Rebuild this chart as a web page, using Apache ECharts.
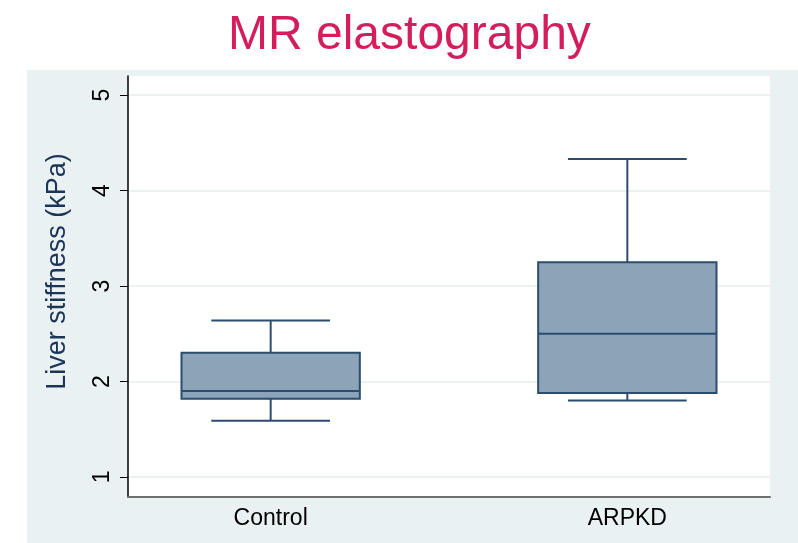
<!DOCTYPE html>
<html lang="en">

<head>
    <meta charset="UTF-8">
    <title>MR elastography</title>
    <script src="https://cdn.jsdelivr.net/npm/echarts@6/dist/echarts.min.js"></script>
    <style>
        html, body { margin: 0; padding: 0; background: #fff; }
        #chart { width: 798px; height: 543px; }
    </style>
</head>

<body>
    <div id="chart"></div>
    <script>
        // groups on the x axis (positions 1 and 2)
        const categories = ['Control', 'ARPKD'];
        // [lower whisker, Q1, median, Q3, upper whisker], kPa
        const controlBox = [1.59, 1.82, 1.90, 2.30, 2.64];
        const arpkdBox = [1.80, 1.88, 2.50, 3.25, 4.33];
        const yTicks = [1, 2, 3, 4, 5];

        const boxes = [controlBox, arpkdBox];
        const lineColor = '#2b4d70';
        const fillColor = '#8ca3b8';

        const renderBox = (params, api) => {
            const x = api.value(0);
            const lo = api.coord([x, api.value(1)]);
            const q1 = api.coord([x, api.value(2)]);
            const med = api.coord([x, api.value(3)]);
            const q3 = api.coord([x, api.value(4)]);
            const hi = api.coord([x, api.value(5)]);
            const half = api.size([0.5, 0])[0] / 2;
            const cap = api.size([0.333, 0])[0] / 2;
            const cx = lo[0];
            const ls = { stroke: lineColor, lineWidth: 2 };
            return {
                type: 'group',
                children: [
                    { type: 'line', shape: { x1: cx, y1: hi[1], x2: cx, y2: q3[1] }, style: ls },
                    { type: 'line', shape: { x1: cx, y1: lo[1], x2: cx, y2: q1[1] }, style: ls },
                    { type: 'line', shape: { x1: cx - cap, y1: hi[1], x2: cx + cap, y2: hi[1] }, style: ls },
                    { type: 'line', shape: { x1: cx - cap, y1: lo[1], x2: cx + cap, y2: lo[1] }, style: ls },
                    {
                        type: 'rect',
                        shape: { x: cx - half, y: q3[1], width: half * 2, height: q1[1] - q3[1] },
                        style: { fill: fillColor, stroke: lineColor, lineWidth: 2 }
                    },
                    { type: 'line', shape: { x1: cx - half, y1: med[1], x2: cx + half, y2: med[1] }, style: ls }
                ]
            };
        };

        const chart = echarts.init(document.getElementById('chart'));

        const option = {
            animation: false,
            backgroundColor: '#fff',
            textStyle: { fontFamily: 'Liberation Sans, Arial, sans-serif' },
            title: {
                text: 'MR elastography',
                left: 223,
                top: 7,
                textStyle: {
                    color: '#d41d5d',
                    fontSize: 48,
                    fontWeight: 'normal',
                    fontFamily: 'Liberation Sans, Arial, sans-serif'
                }
            },
            graphic: [{
                type: 'rect',
                z: -100,
                silent: true,
                shape: { x: 27, y: 70, width: 771, height: 473 },
                style: { fill: '#eaf1f3' }
            }],
            grid: {
                left: 128,
                right: 28,
                top: 76,
                bottom: 46,
                show: true,
                backgroundColor: '#fff',
                borderWidth: 0
            },
            xAxis: {
                type: 'value',
                min: 0.6,
                max: 2.4,
                splitLine: { show: false },
                axisTick: { show: false },
                axisLine: { lineStyle: { color: '#707070', width: 2 } },
                axisLabel: {
                    customValues: [1, 2],
                    formatter: v => categories[Math.round(v) - 1] || '',
                    color: '#000',
                    fontSize: 23,
                    margin: 10
                }
            },
            yAxis: {
                type: 'value',
                min: 0.79,
                max: 5.2,
                name: 'Liver stiffness (kPa)',
                nameLocation: 'middle',
                nameGap: 57,
                nameRotate: 90,
                nameTextStyle: { color: '#1c3557', fontSize: 27, padding: [0, 0, 0, 30] },
                axisLine: { show: true, lineStyle: { color: '#000', width: 1.5 } },
                axisTick: { show: true, customValues: yTicks, length: 8, lineStyle: { color: '#000' } },
                axisLabel: {
                    customValues: yTicks,
                    rotate: 90,
                    color: '#000',
                    fontSize: 23,
                    margin: 14
                },
                splitLine: { show: true, lineStyle: { color: '#eaf1f3', width: 2 } }
            },
            series: [{
                type: 'custom',
                renderItem: renderBox,
                data: boxes.map((b, i) => [i + 1, ...b])
            }]
        };

        chart.setOption(option);
    </script>
</body>

</html>
